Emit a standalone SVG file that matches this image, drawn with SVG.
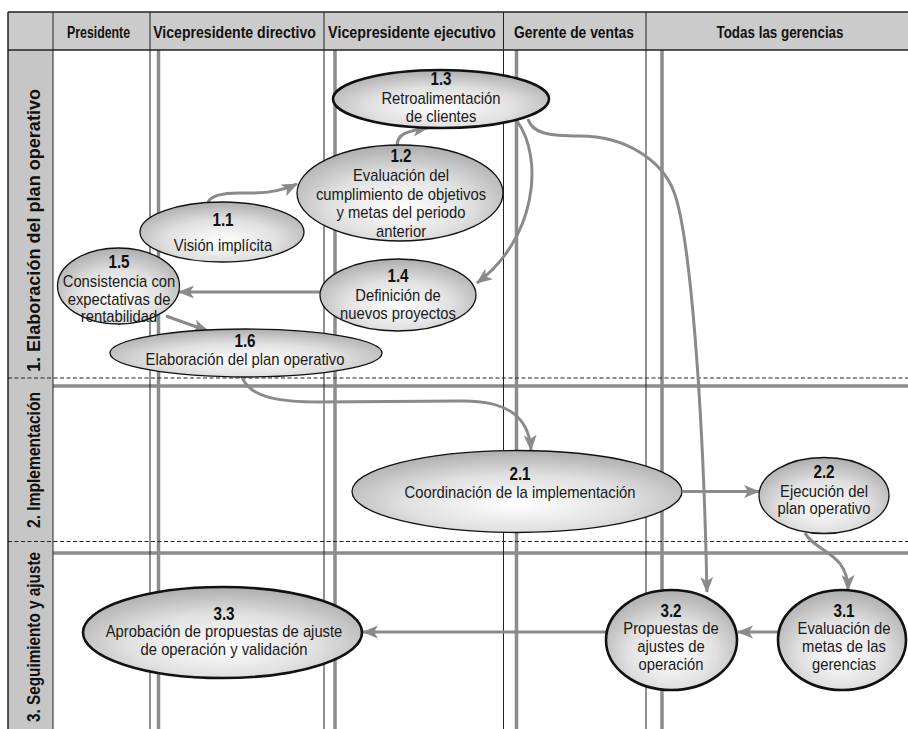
<svg xmlns="http://www.w3.org/2000/svg" width="908" height="729" viewBox="0 0 908 729">
  <style>
    .hdr { font-family: "Liberation Sans", Arial, sans-serif; font-weight: bold; font-size: 17px; fill: #111; text-anchor: middle; }
    .row { font-family: "Liberation Sans", Arial, sans-serif; font-weight: bold; font-size: 18px; fill: #111; text-anchor: middle; }
    .num { font-family: "Liberation Sans", Arial, sans-serif; font-weight: bold; font-size: 17.5px; fill: #111; text-anchor: middle; }
    .lbl { font-family: "Liberation Sans", Arial, sans-serif; font-size: 17px; fill: #1a1a1a; text-anchor: middle; }
    .thin { stroke: #222; stroke-width: 1; fill: none; }
    .lane { stroke: #8c8c8c; stroke-width: 3.5; fill: none; }
    .dash { stroke: #222; stroke-width: 1; stroke-dasharray: 4 2.5; fill: none; }
    .conn { stroke: #8a8a8a; stroke-width: 3; fill: none; marker-end: url(#arrow); }
    .node ellipse { fill: url(#shade); stroke: #111; stroke-width: 1.3; }
    .node.strong ellipse { stroke-width: 2.6; }
  </style>
  <defs>
    <radialGradient id="shade" cx="0.5" cy="0.62" r="0.62" fx="0.5" fy="0.66">
      <stop offset="0" stop-color="#ffffff"/>
      <stop offset="0.55" stop-color="#e0e0e0"/>
      <stop offset="1" stop-color="#adadad"/>
    </radialGradient>
    <marker id="arrow" markerUnits="userSpaceOnUse" markerWidth="17" markerHeight="14" refX="15" refY="6.5" orient="auto">
      <path d="M0,0 L16,6.5 L0,13 L4,6.5 Z" fill="#8a8a8a"/>
    </marker>
  </defs>

  <!-- white page -->
  <rect x="0" y="0" width="908" height="729" fill="#ffffff"/>

  <!-- header band and phase column -->
  <g id="grid">
    <rect x="8" y="12" width="900" height="38" fill="#cbcbcb"/>
    <rect x="8" y="50" width="45" height="679" fill="#c6c6c6"/>

    <!-- thick lane guides -->
    <line class="lane" x1="158.5" y1="50" x2="158.5" y2="729"/>
    <line class="lane" x1="335" y1="50" x2="335" y2="729"/>
    <line class="lane" x1="516.5" y1="50" x2="516.5" y2="729"/>
    <line class="lane" x1="662" y1="50" x2="662" y2="729"/>
    <line class="lane" x1="53" y1="386" x2="908" y2="386"/>
    <line class="lane" x1="53" y1="553" x2="908" y2="553"/>

    <!-- thin borders and separators -->
    <line class="thin" x1="8" y1="12" x2="908" y2="12" style="stroke-width:1.5"/>
    <line class="thin" x1="8" y1="50" x2="908" y2="50" style="stroke-width:1.5"/>
    <line class="thin" x1="8" y1="12" x2="8" y2="729" style="stroke-width:1.5"/>
    <line class="thin" x1="53" y1="12" x2="53" y2="729"/>
    <line class="thin" x1="150" y1="12" x2="150" y2="729"/>
    <line class="thin" x1="324" y1="12" x2="324" y2="729"/>
    <line class="thin" x1="503.5" y1="12" x2="503.5" y2="729"/>
    <line class="thin" x1="646" y1="12" x2="646" y2="729"/>

    <!-- phase boundaries -->
    <line class="dash" x1="8" y1="378" x2="908" y2="378"/>
    <line class="dash" x1="8" y1="541.5" x2="908" y2="541.5"/>
  </g>

  <!-- column headers (condensed by horizontal scaling) -->
  <g id="headers">
    <text class="hdr" transform="translate(98.5 37.5) scale(0.725 1)">Presidente</text>
    <text class="hdr" transform="translate(234.5 37.5) scale(0.83 1)">Vicepresidente directivo</text>
    <text class="hdr" transform="translate(412 37.5) scale(0.843 1)">Vicepresidente ejecutivo</text>
    <text class="hdr" transform="translate(574 37.5) scale(0.814 1)">Gerente de ventas</text>
    <text class="hdr" transform="translate(780 37.5) scale(0.788 1)">Todas las gerencias</text>
  </g>

  <!-- phase labels -->
  <g id="phases">
    <text class="row" transform="translate(39.5 230.5) rotate(-90)" x="0" y="0" textLength="283" lengthAdjust="spacingAndGlyphs">1. Elaboración del plan operativo</text>
    <text class="row" transform="translate(39.5 460) rotate(-90)" x="0" y="0" textLength="136" lengthAdjust="spacingAndGlyphs">2. Implementación</text>
    <text class="row" transform="translate(39.5 637) rotate(-90)" x="0" y="0" textLength="170" lengthAdjust="spacingAndGlyphs">3. Seguimiento y ajuste</text>
  </g>

  <!-- connectors -->
  <g id="connectors">
    <path class="conn" d="M 208 202 Q 213 192 245 193 Q 276 194 297 184"/>
    <path class="conn" d="M 397 146 C 397 134 406 131 428 128"/>
    <path class="conn" d="M 517 121 C 545 160 535 240 477 283"/>
    <path class="conn" d="M 528 119 C 532 133 548 136 580 136 C 625 136 662 160 674 192 C 690 235 703 400 707 592"/>
    <path class="conn" d="M 320 292 L 179 292"/>
    <path class="conn" d="M 166 316 L 208 331"/>
    <path class="conn" d="M 242 377 C 250 398 280 402 320 402 L 460 401 C 505 400 529 415 531 450"/>
    <path class="conn" d="M 683 491.5 L 759 491.5"/>
    <path class="conn" d="M 805 533 C 815 552 848 552 848 590"/>
    <path class="conn" d="M 778 632 L 738 632"/>
    <path class="conn" d="M 606 632 L 363 632"/>
  </g>

  <!-- process steps -->
  <g id="n1-3" class="node strong">
    <ellipse cx="441" cy="99" rx="108" ry="29"/>
    <g transform="translate(441 0) scale(0.87 1)">
      <text class="num" y="85">1.3</text>
      <text class="lbl" y="104">Retroalimentación</text>
      <text class="lbl" y="122">de clientes</text>
    </g>
  </g>

  <g id="n1-2" class="node">
    <ellipse cx="400" cy="193" rx="103" ry="48"/>
    <g transform="translate(401 0) scale(0.87 1)">
      <text class="num" y="162">1.2</text>
      <text class="lbl" y="181">Evaluación del</text>
      <text class="lbl" y="200">cumplimiento de objetivos</text>
      <text class="lbl" y="218">y metas del periodo</text>
      <text class="lbl" y="237">anterior</text>
    </g>
  </g>

  <g id="n1-1" class="node">
    <ellipse cx="222" cy="232" rx="82" ry="30"/>
    <g transform="translate(223 0) scale(0.87 1)">
      <text class="num" y="226">1.1</text>
      <text class="lbl" y="251">Visión implícita</text>
    </g>
  </g>

  <g id="n1-4" class="node">
    <ellipse cx="398" cy="295" rx="78" ry="36"/>
    <g transform="translate(398 0) scale(0.87 1)">
      <text class="num" y="282">1.4</text>
      <text class="lbl" y="301">Definición de</text>
      <text class="lbl" y="319">nuevos proyectos</text>
    </g>
  </g>

  <g id="n1-5" class="node">
    <ellipse cx="118.5" cy="286" rx="61" ry="38"/>
    <g transform="translate(119 0) scale(0.87 1)">
      <text class="num" y="268">1.5</text>
      <text class="lbl" y="287">Consistencia con</text>
      <text class="lbl" y="305">expectativas de</text>
      <text class="lbl" y="322">rentabilidad</text>
    </g>
  </g>

  <g id="n1-6" class="node">
    <ellipse cx="246" cy="353" rx="136" ry="24"/>
    <g transform="translate(245 0) scale(0.87 1)">
      <text class="num" y="347">1.6</text>
      <text class="lbl" y="365">Elaboración del plan operativo</text>
    </g>
  </g>

  <g id="n2-1" class="node">
    <ellipse cx="517" cy="491.5" rx="165" ry="41"/>
    <g transform="translate(520 0) scale(0.87 1)">
      <text class="num" y="480">2.1</text>
      <text class="lbl" y="498">Coordinación de la implementación</text>
    </g>
  </g>

  <g id="n2-2" class="node">
    <ellipse cx="824" cy="495.5" rx="65" ry="38"/>
    <g transform="translate(824 0) scale(0.87 1)">
      <text class="num" y="478">2.2</text>
      <text class="lbl" y="497">Ejecución del</text>
      <text class="lbl" y="514">plan operativo</text>
    </g>
  </g>

  <g id="n3-1" class="node strong">
    <ellipse cx="842" cy="640" rx="64" ry="50"/>
    <g transform="translate(844 0) scale(0.87 1)">
      <text class="num" y="617">3.1</text>
      <text class="lbl" y="634">Evaluación de</text>
      <text class="lbl" y="652">metas de las</text>
      <text class="lbl" y="670">gerencias</text>
    </g>
  </g>

  <g id="n3-2" class="node strong">
    <ellipse cx="671.5" cy="640" rx="65.5" ry="50"/>
    <g transform="translate(671 0) scale(0.87 1)">
      <text class="num" y="617">3.2</text>
      <text class="lbl" y="634">Propuestas de</text>
      <text class="lbl" y="652">ajustes de</text>
      <text class="lbl" y="670">operación</text>
    </g>
  </g>

  <g id="n3-3" class="node strong">
    <ellipse cx="222.5" cy="632.5" rx="139.5" ry="45.5"/>
    <g transform="translate(224 0) scale(0.87 1)">
      <text class="num" y="620">3.3</text>
      <text class="lbl" y="637">Aprobación de propuestas de ajuste</text>
      <text class="lbl" y="655">de operación y validación</text>
    </g>
  </g>
</svg>
